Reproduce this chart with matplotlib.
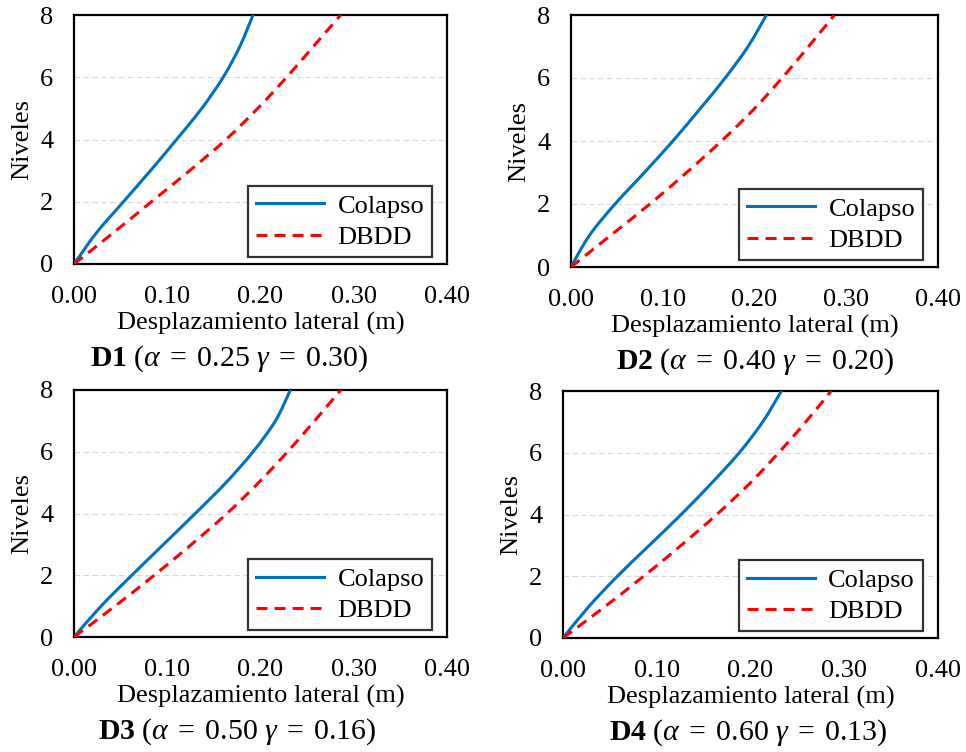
import matplotlib
matplotlib.use("Agg")
import matplotlib.pyplot as plt
from matplotlib.ticker import FixedLocator
from matplotlib.path import Path
from matplotlib.patches import PathPatch
from matplotlib.lines import Line2D

plt.rcParams['font.family'] = ['Liberation Serif', 'DejaVu Serif']
plt.rcParams['mathtext.fontset'] = 'custom'
plt.rcParams['mathtext.rm'] = 'Liberation Serif'
plt.rcParams['mathtext.it'] = 'Liberation Serif:italic'
plt.rcParams['mathtext.bf'] = 'Liberation Serif:bold'

levels = [0, 1, 2, 3, 4, 5, 6, 7, 8]

d1_colapso = [0.0, 0.024, 0.053, 0.082, 0.110, 0.137, 0.160, 0.178, 0.192]
d1_dbdd    = [0.0, 0.042, 0.083, 0.124, 0.163, 0.197, 0.228, 0.257, 0.286]
d2_colapso = [0.0, 0.020, 0.048, 0.080, 0.111, 0.140, 0.168, 0.193, 0.213]
d2_dbdd    = [0.0, 0.043, 0.086, 0.126, 0.164, 0.199, 0.230, 0.259, 0.287]
d3_colapso = [0.0, 0.029, 0.062, 0.096, 0.130, 0.163, 0.192, 0.216, 0.232]
d3_dbdd    = [0.0, 0.044, 0.086, 0.126, 0.164, 0.198, 0.229, 0.258, 0.286]
d4_colapso = [0.0, 0.027, 0.058, 0.092, 0.126, 0.158, 0.188, 0.213, 0.233]
d4_dbdd    = [0.0, 0.044, 0.086, 0.126, 0.164, 0.199, 0.230, 0.259, 0.286]

panel_names = ["D1", "D2", "D3", "D4"]
alphas = ["0.25", "0.40", "0.50", "0.60"]
gammas = ["0.30", "0.20", "0.16", "0.13"]
colapso = [d1_colapso, d2_colapso, d3_colapso, d4_colapso]
dbdd = [d1_dbdd, d2_dbdd, d3_dbdd, d4_dbdd]

x_ticks = [0.0, 0.1, 0.2, 0.3, 0.4]
x_ticklabels = ["0.00", "0.10", "0.20", "0.30", "0.40"]
y_ticks = [0, 2, 4, 6, 8]

BLUE = '#0070C0'
RED = '#FF0000'
LW = 2.2
DASH = (0, (3.6, 2.3))


def smooth_path(xs, ys):
    """Excel-like smoothed line: cubic Bezier segments through the data points."""
    pts = list(zip(xs, ys))
    n = len(pts)
    verts = [pts[0]]
    codes = [Path.MOVETO]
    for i in range(n - 1):
        p0 = pts[i - 1] if i > 0 else pts[i]
        p1 = pts[i]
        p2 = pts[i + 1]
        p3 = pts[i + 2] if i + 2 < n else pts[i + 1]
        c1 = (p1[0] + (p2[0] - p0[0]) / 6, p1[1] + (p2[1] - p0[1]) / 6)
        c2 = (p2[0] - (p3[0] - p1[0]) / 6, p2[1] - (p3[1] - p1[1]) / 6)
        verts += [c1, c2, p2]
        codes += [Path.CURVE4] * 3
    return Path(verts, codes)


W, H = 966, 752
fig = plt.figure(figsize=(W / 100, H / 100), dpi=100)

# pixel boxes: left, right, top, bottom
boxes = [(74, 447, 15, 264), (571, 938, 15, 267), (74, 447, 390, 637), (563, 938, 391, 638)]
title_cx = [229, 755, 237, 748]

FS = 19
for i, (l, r, t, b) in enumerate(boxes):
    ax = fig.add_axes([l / W, 1 - b / H, (r - l) / W, (b - t) / H])
    ax.set_xlim(0, 0.4)
    ax.set_ylim(0, 8)
    ax.yaxis.set_major_locator(FixedLocator(y_ticks))
    ax.set_xticks(x_ticks)
    ax.set_xticklabels(x_ticklabels)
    ax.tick_params(length=0, labelsize=FS)
    ax.tick_params(axis='y', pad=15)
    ax.tick_params(axis='x', pad=16)
    for sp in ax.spines.values():
        sp.set_linewidth(1.6)
        sp.set_color('black')
    for yv in [2, 4, 6]:
        ax.axhline(yv, color='#d9d9d9', lw=0.8, ls=(0, (5, 3)), zorder=0)
    ax.add_patch(PathPatch(smooth_path(colapso[i], levels), facecolor='none',
                           edgecolor=BLUE, lw=LW, capstyle='round', zorder=3))
    ax.add_patch(PathPatch(smooth_path(dbdd[i], levels), facecolor='none',
                           edgecolor=RED, lw=LW, ls=DASH, zorder=3))
    handles = [Line2D([], [], color=BLUE, lw=LW),
               Line2D([], [], color=RED, lw=LW, ls=DASH)]
    ax.set_xlabel("Desplazamiento lateral (m)", fontsize=FS, labelpad=3)
    ax.set_ylabel("Niveles", fontsize=FS, labelpad=5)
    leg = ax.legend(handles, ['Colapso', 'DBDD'], loc='lower right',
                    bbox_to_anchor=(0.96, 0.028), fontsize=FS,
                    frameon=True, fancybox=False, edgecolor='black', handlelength=2.6,
                    borderpad=0.3, labelspacing=0.3, handletextpad=0.5, borderaxespad=0)
    leg.get_frame().set_linewidth(1.6)
    title = r"$\mathbf{%s}\ (\mathit{\alpha}\;=\;%s\ \mathit{\gamma}\;=\;%s)$" % (panel_names[i], alphas[i], gammas[i])
    ty = 1 - (b + 95) / H
    fig.text(title_cx[i] / W, ty, title, ha='center', va='center', fontsize=21.5)

fig.savefig("out.png", dpi=100)
